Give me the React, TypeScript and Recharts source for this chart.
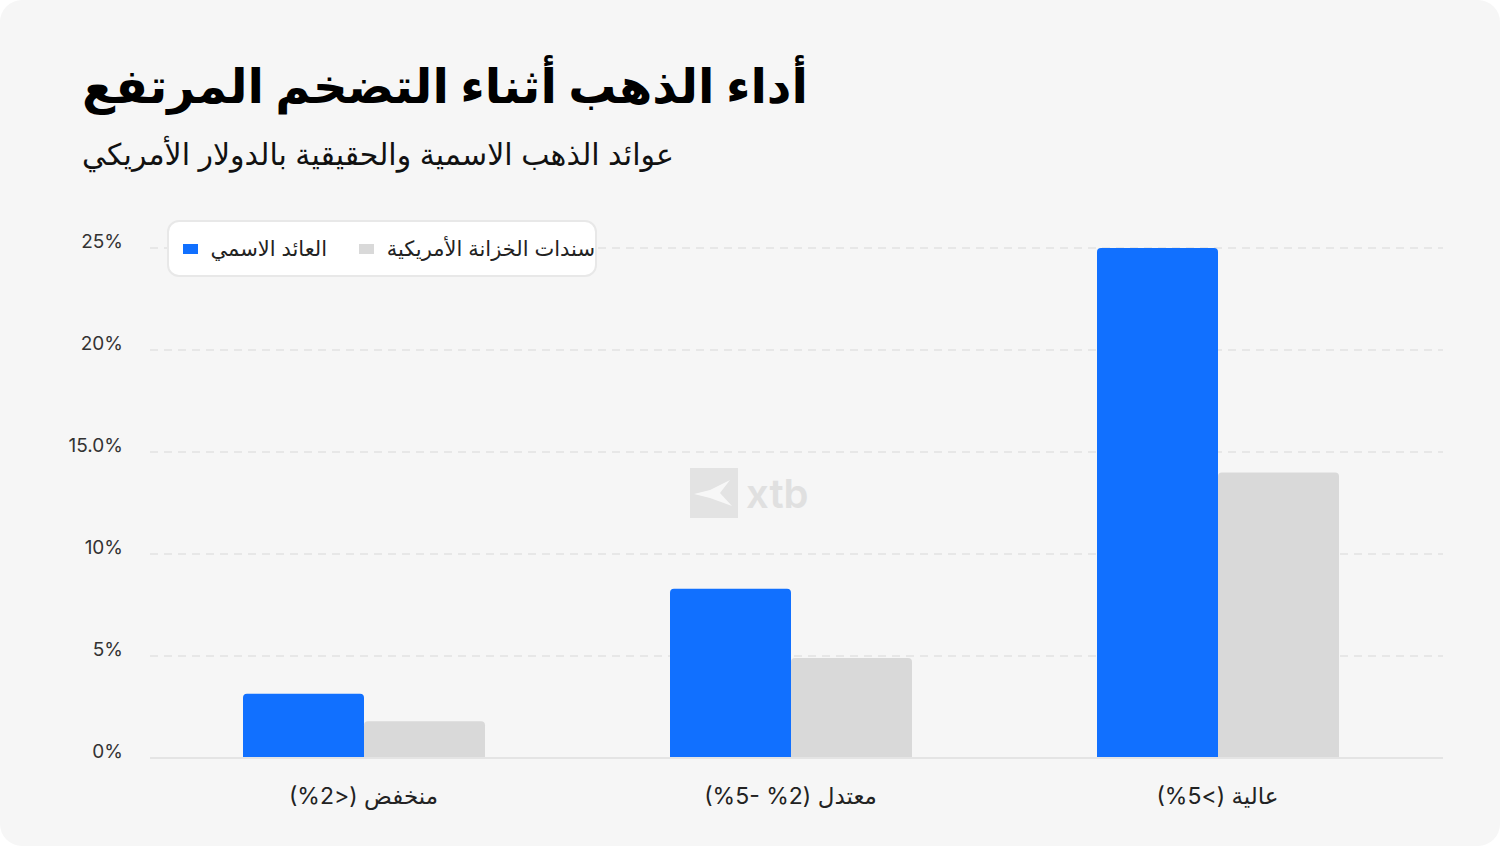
import React from "react"
import { BarChart, Bar, XAxis, YAxis, CartesianGrid, Legend } from "recharts"

const categories = ["منخفض (<2%)", "معتدل (2% -5%)", "عالية (>5%)"]
const nominalReturn = [3.15, 8.3, 25]
const treasuryReturn = [1.8, 4.9, 14.0]
const yTicks = [0, 5, 10, 15, 20, 25]
const yTickLabels = ["0%", "5%", "10%", "15.0%", "20%", "25%"]
const seriesNames = ["العائد الاسمي", "سندات الخزانة الأمريكية"]

const colors = {
  nominal: "#1170ff",
  treasury: "#d9d9d9",
  bg: "#f6f6f6",
  grid: "#e2e2e2",
  text: "#222",
}

const font = "Inter, 'DejaVu Sans', sans-serif"

const data = categories.map((c, i) => ({
  category: c,
  nominal: nominalReturn[i],
  treasury: treasuryReturn[i],
}))

function XTick({ x, y, payload }: any) {
  return (
    <text x={x} y={y} dy={22} textAnchor="middle" direction="rtl" fontSize={23} fill={colors.text} fontFamily={font}>
      {payload.value}
    </text>
  )
}

function LegendBox() {
  return (
    <div
      style={{
        display: "flex",
        alignItems: "center",
        width: 430,
        height: 57,
        boxSizing: "border-box",
        background: "#fff",
        border: "2px solid #e8e8e8",
        borderRadius: 12,
        paddingLeft: 14,
        fontFamily: font,
        fontSize: 21,
        color: colors.text,
        whiteSpace: "nowrap",
      }}
    >
      <span style={{ width: 18, height: 10, background: colors.nominal, marginRight: 13 }} />
      <span style={{ direction: "rtl" }}>{seriesNames[0]}</span>
      <span style={{ width: 18, height: 10, background: colors.treasury, marginLeft: 32, marginRight: 13 }} />
      <span style={{ direction: "rtl" }}>{seriesNames[1]}</span>
    </div>
  )
}

export default function App() {
  return (
    <div
      style={{
        position: "fixed",
        left: 0,
        top: 0,
        width: 1500,
        height: 846,
        background: "#fff",
      }}
    >
      <div
        style={{
          position: "absolute",
          inset: 0,
          background: colors.bg,
          borderRadius: 22,
        }}
      />
      <div
        style={{
          position: "absolute",
          left: 82,
          top: 56,
          direction: "rtl",
          fontFamily: font,
          fontWeight: 700,
          fontSize: 48,
          color: "#000",
          whiteSpace: "nowrap",
        }}
      >
        أداء الذهب أثناء التضخم المرتفع
      </div>
      <div
        style={{
          position: "absolute",
          left: 82,
          top: 136,
          direction: "rtl",
          fontFamily: font,
          fontSize: 30,
          color: "#111",
          whiteSpace: "nowrap",
        }}
      >
        عوائد الذهب الاسمية والحقيقية بالدولار الأمريكي
      </div>

      {/* watermark */}
      <div style={{ position: "absolute", left: 690, top: 468, display: "flex", alignItems: "center" }}>
        <svg width={48} height={50}>
          <rect width={48} height={50} fill="#e3e3e3" />
          <path d="M4 26 L20 22 L40 12 L30 25 L42 38 L20 30 Z" fill="#f7f7f7" />
        </svg>
        <span style={{ marginLeft: 8, fontFamily: font, fontWeight: 600, fontSize: 40, color: "#e0e0e0" }}>xtb</span>
      </div>

      <div style={{ position: "absolute", left: 0, top: 0 }}>
        <BarChart
          width={1500}
          height={846}
          data={data}
          margin={{ top: 248, right: 57, bottom: 58, left: 90 }}
          barGap={0}
          barSize={121}
        >
          <CartesianGrid vertical={false} strokeDasharray="8 6" stroke={colors.grid} strokeWidth={1.5} />
          <XAxis
            dataKey="category"
            height={30}
            axisLine={{ stroke: "#e4e4e4", strokeWidth: 2 }}
            tickLine={false}
            tickSize={0}
            tickMargin={24}
            tick={<XTick />}
            padding={{ left: 0, right: 12 }}
          />
          <YAxis
            width={60}
            domain={[0, 25]}
            ticks={yTicks}
            axisLine={false}
            tickLine={false}
            tickSize={0}
            tickMargin={27}
            tick={{ fontSize: 19, fill: "#333", fontFamily: font, dy: -7 }}
            tickFormatter={(v: number) => yTickLabels[yTicks.indexOf(v)]}
          />
          <Legend
            verticalAlign="middle"
            content={<LegendBox />}
            wrapperStyle={{ left: 167, top: 220, width: 430 }}
          />
          <Bar dataKey="nominal" name={seriesNames[0]} fill={colors.nominal} radius={[4, 4, 0, 0]} isAnimationActive={false} />
          <Bar dataKey="treasury" name={seriesNames[1]} fill={colors.treasury} radius={[4, 4, 0, 0]} isAnimationActive={false} />
        </BarChart>
      </div>
    </div>
  )
}
